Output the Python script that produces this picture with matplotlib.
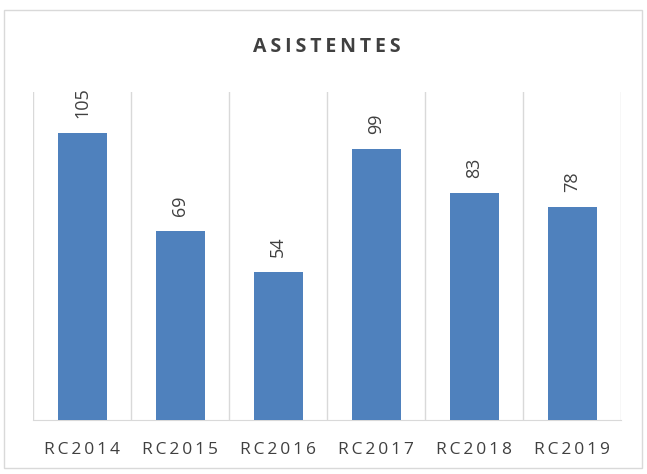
import matplotlib.pyplot as plt
from matplotlib.patches import Rectangle

categories = ["RC2014", "RC2015", "RC2016", "RC2017", "RC2018", "RC2019"]
asistentes = [105, 69, 54, 99, 83, 78]

bar_color = "#4F81BD"
text_color = "#404040"
grid_color = "#D9D9D9"

plt.rcParams["font.family"] = ["Open Sans", "DejaVu Sans"]

fig = plt.figure(figsize=(6.47, 4.74), dpi=100)
ax = fig.add_axes([33 / 647, 1 - 420 / 474, (621 - 33) / 647, (420 - 92) / 474])

x = list(range(len(categories)))
ax.bar(x, asistentes, width=0.5, color=bar_color, zorder=3)

for xi, v in zip(x, asistentes):
    ax.annotate(str(v), (xi, v), xytext=(0, 11), textcoords="offset points",
                rotation=90, ha="center", va="bottom", fontsize=13,
                color=text_color)

# vertical separators between categories
for b in range(len(categories) + 1):
    ax.axvline(b - 0.5, color=grid_color, lw=1, zorder=1)

ax.set_xlim(-0.5, len(categories) - 0.5)
ax.set_ylim(0, 120)
ax.set_yticks([])
ax.set_xticks(x)
ax.set_xticklabels(["\u2009".join(c) for c in categories], fontsize=12.5,
                   color=text_color)
ax.tick_params(axis="x", length=0, pad=16)
for s in ["top", "left", "right"]:
    ax.spines[s].set_visible(False)
ax.spines["bottom"].set_color(grid_color)

fig.text(327 / 647, 1 - 47 / 474, "\u2009".join("ASISTENTES"), ha="center",
         va="center", fontsize=14, fontweight="bold", color=text_color)

fig.patches.append(Rectangle((4 / 647, 1 - 468 / 474), 638 / 647, 458 / 474,
                             transform=fig.transFigure, fill=False,
                             edgecolor=grid_color, lw=1))

fig.savefig("out.png", dpi=100)
